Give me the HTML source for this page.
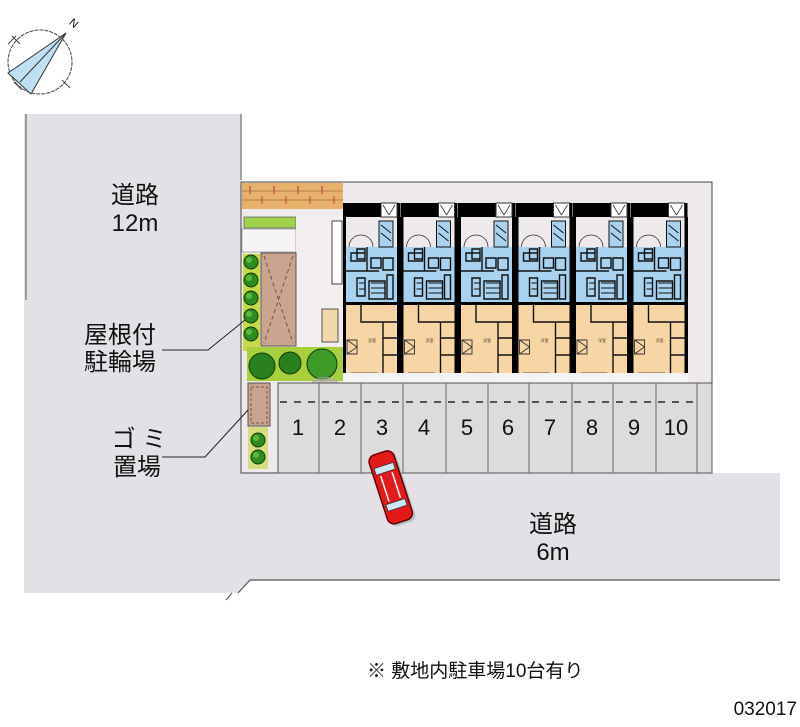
<!DOCTYPE html>
<html><head><meta charset="utf-8"><style>
html,body{margin:0;padding:0;background:#fff}
svg{display:block}
text{font-family:"Liberation Sans","Noto Sans CJK JP",sans-serif}
</style></head><body>
<svg width="800" height="727" viewBox="0 0 800 727" xmlns="http://www.w3.org/2000/svg">
<defs>
<g id="unit">
  <rect x="0" y="0" width="57" height="178" fill="#000"/>
  <rect x="3" y="14" width="51" height="30" fill="#eeeaec"/>
  <path d="M6 44 A12 12 0 0 1 18 32 M30 44 A12 12 0 0 0 18 32" fill="none" stroke="#333" stroke-width="0.8"/>
  <rect x="38" y="0" width="16" height="14" fill="#fff" stroke="#333" stroke-width="1"/>
  <path d="M40 2 l6 10 M52 2 l-6 10" stroke="#333" stroke-width="0.8"/>
  <rect x="3" y="44" width="51" height="55" fill="#a9d2f0"/>
  <rect x="36" y="18" width="14" height="26" fill="#a9d2f0" stroke="#111" stroke-width="1"/>
  <path d="M38 22 l10 8 M38 30 l10 8" stroke="#111" stroke-width="1"/>
  <path d="M8 50 h14 v8 h-14z M14 46 h8 v10 h-8z M28 55 h10 v10 h-10z M40 55 h10 v12 h-10z M14 75 h8 v18 h-8z M26 78 h16 v18 h-16z M44 72 h6 v24 h-6z M24 44 v24 M3 68 h33" fill="none" stroke="#111" stroke-width="1.4"/>
  <path d="M28 80 h14 M28 85 h14 M28 90 h14 M16 80 h6 M16 86 h6" stroke="#111" stroke-width="1"/>
  <rect x="3" y="102" width="51" height="68" fill="#f8d5a4"/>
  <path d="M18 102 v17 h36 M40 119 v51 M40 135 h14 M40 152 h14" fill="none" stroke="#111" stroke-width="1.4"/>
  <path d="M4 137 h10 v14 h-10z M4 137 l10 7 l-10 7" fill="none" stroke="#333" stroke-width="0.9"/>
  <text x="25" y="139" font-size="4" fill="#333">洋室</text>
  <rect x="3" y="170" width="51" height="8" fill="#f3f3f3"/>
  <rect x="8" y="170" width="26" height="8" fill="#fff" stroke="#333" stroke-width="0.8"/>
</g>
<g id="tree">
  <circle r="7" fill="#2e8b22" stroke="#0d3d0a" stroke-width="1"/>
  <circle cx="-2" cy="-2" r="3" fill="#5cb83a"/>
</g>
</defs>

<!-- compass -->
<circle cx="40" cy="62" r="32" fill="none" stroke="#444" stroke-width="1" stroke-dasharray="4 1"/>
<path d="M66 33 L8 73 L31 94 Z" fill="#bfe0f2" stroke="#333" stroke-width="1"/>
<path d="M66 33 L20 82" stroke="#333" stroke-width="1"/>
<path d="M12 36 l8 8 M16 36 l-8 8 M14 82 l8 8 M62 80 l8 8" stroke="#444" stroke-width="1"/>
<text x="70" y="27" font-size="11" fill="#000" transform="rotate(40 74 23)">N</text>

<!-- roads -->
<path d="M24 114 H241 V473 H780 V580 H250 L238 593 H24 Z" fill="#e4e1e6"/>
<path d="M26 114 V300 M241 114 V180" stroke="#555" stroke-width="1"/>
<path d="M473 580 H780 M238 593 L250 580 H480" fill="none" stroke="#555" stroke-width="1.2"/>
<path d="M232 593 L226 600" stroke="#555" stroke-width="1"/>

<!-- site -->
<rect x="241" y="182" width="471" height="291" fill="#eee9eb" stroke="#444" stroke-width="1"/>
<rect x="242" y="183" width="101" height="26" fill="#e7b16c"/>
<g stroke="#c44" stroke-width="2" opacity="0.6">
<path d="M250 186 v8 M262 196 v8 M274 186 v8 M286 196 v8 M298 186 v8 M310 196 v8 M322 186 v8 M334 196 v8"/>
</g>
<g stroke="#7a5a2a" stroke-width="0.6">
<path d="M242 191 H343 M242 200 H343"/>
</g>
<rect x="244" y="217" width="52" height="11" fill="#9fd24a" stroke="#666" stroke-width="0.8"/>
<rect x="242" y="229" width="54" height="23" fill="#f6f4f5" stroke="#999" stroke-width="0.8"/>
<rect x="296" y="215" width="47" height="133" fill="#f2eeee"/>
<rect x="332" y="221" width="10" height="63" fill="#fff" stroke="#444" stroke-width="1"/>
<rect x="322" y="309" width="16" height="33" fill="#f0d9a6" stroke="#555" stroke-width="1"/>
<!-- bicycle -->
<rect x="261" y="253" width="35" height="93" fill="#c9a590" stroke="#555" stroke-width="1"/>
<path d="M264 256 L293 343 M293 256 L264 343" stroke="#7a5040" stroke-width="1" stroke-dasharray="4 3"/>
<!-- plants column -->
<rect x="243" y="254" width="17" height="97" fill="#c7d84a"/>
<use href="#tree" x="251" y="262"/><use href="#tree" x="251" y="280"/><use href="#tree" x="251" y="298"/><use href="#tree" x="251" y="316"/><use href="#tree" x="251" y="334"/>
<!-- garden -->
<rect x="247" y="347" width="96" height="34" fill="#a8cf3e"/>
<circle cx="262" cy="366" r="13" fill="#2a7f1e" stroke="#0d3d0a"/>
<circle cx="290" cy="363" r="11" fill="#2a7f1e" stroke="#0d3d0a"/>
<circle cx="322" cy="364" r="15" fill="#3f9a2a" stroke="#0d3d0a"/>
<ellipse cx="325" cy="382" rx="13" ry="5" fill="#aaa" opacity="0.6"/>
<!-- garbage -->
<rect x="248" y="383" width="22" height="43" fill="#c9a590" stroke="#555" stroke-width="1"/>
<rect x="251" y="387" width="16" height="36" fill="none" stroke="#7a5040" stroke-dasharray="3 2"/>
<rect x="248" y="427" width="20" height="42" fill="#d8dd80"/>
<use href="#tree" x="258" y="440"/><use href="#tree" x="258" y="457"/>

<!-- building -->
<rect x="343" y="217" width="345" height="166" fill="#000"/>
<use href="#unit" x="343" y="203"/>
<use href="#unit" x="400.5" y="203"/>
<use href="#unit" x="458" y="203"/>
<use href="#unit" x="515.5" y="203"/>
<use href="#unit" x="573" y="203"/>
<use href="#unit" x="630.5" y="203"/>
<rect x="343" y="373" width="345" height="10" fill="#f3f3f3"/>

<!-- parking -->
<rect x="278" y="383" width="434" height="90" fill="#dcdcdc" stroke="#555" stroke-width="1"/>
<g stroke="#666" stroke-width="1">
<path d="M319 383 V473 M361 383 V473 M403 383 V473 M446 383 V473 M488 383 V473 M529 383 V473 M572 383 V473 M613 383 V473 M656 383 V473 M697 383 V473"/>
</g>
<g stroke="#555" stroke-width="2" stroke-dasharray="7 7">
<path d="M280 402 H697"/>
</g>
<g font-size="22" fill="#111" text-anchor="middle">
<text x="298" y="435">1</text><text x="340" y="435">2</text><text x="382" y="435">3</text><text x="424" y="435">4</text><text x="467" y="435">5</text><text x="508" y="435">6</text><text x="550" y="435">7</text><text x="592" y="435">8</text><text x="634" y="435">9</text><text x="676" y="435">10</text>
</g>

<!-- car -->
<g transform="translate(392 488) rotate(-18)">
<rect x="-12" y="-34" width="26" height="72" rx="6" fill="#9bb" opacity="0.7"/>
<rect x="-14" y="-37" width="26" height="72" rx="7" fill="#e31a1a" stroke="#600" stroke-width="1.5"/>
<rect x="-11" y="-24" width="20" height="7" fill="#cde8f5" stroke="#333" stroke-width="0.8"/>
<rect x="-11" y="14" width="20" height="7" fill="#cde8f5" stroke="#333" stroke-width="0.8"/>
<path d="M-7 -15 V12 M5 -15 V12" stroke="#fff" stroke-width="1.5"/>
</g>

<!-- labels -->
<g font-size="24" fill="#111" text-anchor="middle">
<text x="135" y="203">道路</text>
<text x="135" y="231">12m</text>
<text x="120" y="343">屋根付</text>
<text x="120" y="370">駐輪場</text>
<text x="139" y="447">ゴ ミ</text>
<text x="137" y="475">置場</text>
<text x="553" y="532">道路</text>
<text x="553" y="560">6m</text>
</g>
<path d="M162 350 H208 L245 320 M162 457 H205 L248 410" fill="none" stroke="#222" stroke-width="1"/>
<text x="367" y="677" font-size="19" fill="#111">※ 敷地内駐車場10台有り</text>
<text x="797" y="715" font-size="19" fill="#111" text-anchor="end">032017</text>
</svg>
</body></html>
